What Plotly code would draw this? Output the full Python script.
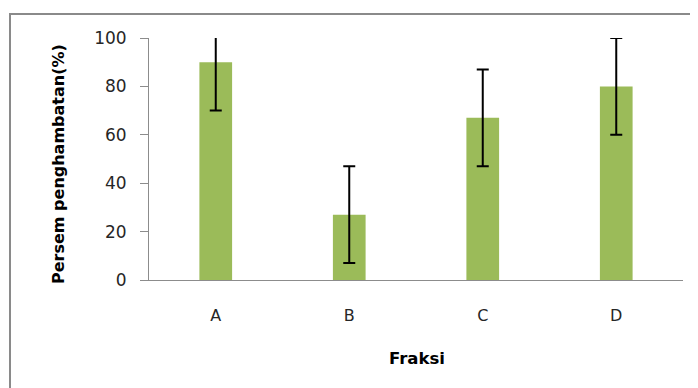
import plotly.graph_objects as go

categories = ["A", "B", "C", "D"]
values = [90, 27, 67, 80]
errors = [20, 20, 20, 20]
y_ticks = [0, 20, 40, 60, 80, 100]

# page body adds an 8px offset; compensate so the plot lands where the reference has it
OFF = 8
W, H = 698 - OFF, 388 - OFF
L, T = 149 - OFF, 38 - OFF
pw, ph = 534, 242
R = W - L - pw
B = H - T - ph


def px_x(sx):
    return (sx - OFF - L) / pw


def px_y(sy):
    return 1 - (sy - OFF - T) / ph


fig = go.Figure()
fig.add_trace(go.Bar(
    x=categories, y=values,
    marker=dict(color="#9BBB59", line=dict(width=0)),
    width=0.245,
    error_y=dict(type="data", array=errors, visible=True, color="#000000",
                 thickness=2, width=6),
))

font = "'DejaVu Sans', sans-serif"
fig.update_layout(
    width=W, height=H,
    margin=dict(l=L, r=R, t=T, b=B, autoexpand=False),
    paper_bgcolor="white", plot_bgcolor="white",
    showlegend=False,
    font=dict(family=font, size=16, color="#262626"),
    xaxis=dict(
        automargin=False,
        showline=True, linecolor="#8c8c8c", linewidth=1,
        ticks="", showgrid=False, ticklabelstandoff=21,
        tickfont=dict(size=16, color="#262626"),
        range=[-0.5, 3.5],
    ),
    yaxis=dict(
        automargin=False,
        range=[0, 100], tickvals=y_ticks, ticktext=[str(v) for v in y_ticks],
        showline=True, linecolor="#8c8c8c", linewidth=1,
        ticks="outside", ticklen=8, tickcolor="#8c8c8c",
        showgrid=False, zeroline=False, ticklabelstandoff=10,
        tickfont=dict(size=17, color="#262626"),
    ),
    annotations=[
        dict(text="<b>Persem penghambatan(%)</b>", xref="paper", yref="paper",
             x=px_x(58), y=px_y(164), xanchor="center", yanchor="middle",
             textangle=-90, showarrow=False, font=dict(size=16, color="#000000")),
        dict(text="<b>Fraksi</b>", xref="paper", yref="paper",
             x=px_x(417), y=px_y(358), xanchor="center", yanchor="middle",
             showarrow=False, font=dict(size=16.5, color="#000000")),
    ],
    shapes=[dict(
        type="rect", xref="paper", yref="paper",
        x0=px_x(10), x1=1.3, y0=-1.0, y1=px_y(14),
        line=dict(color="#8a8a8a", width=2), fillcolor="rgba(0,0,0,0)", layer="below",
    )],
)

fig.write_html("out.html")
